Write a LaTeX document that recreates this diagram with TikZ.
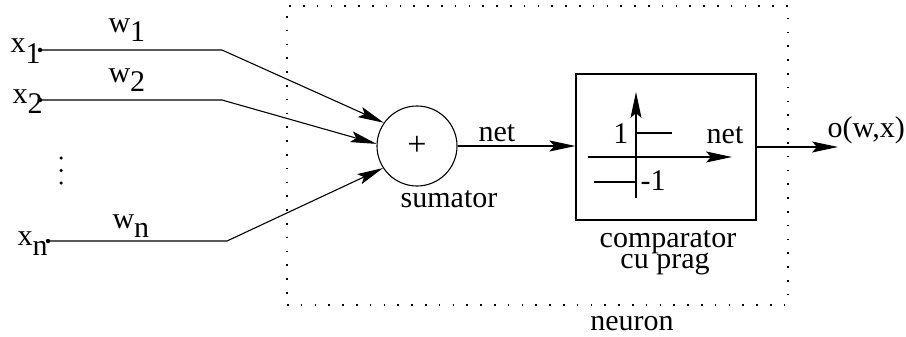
\documentclass[tikz,border=0pt]{standalone}
\usepackage{fontspec}
\setmainfont{Liberation Serif}
\newfontfamily\timesfam{Liberation Serif}
\usetikzlibrary{arrows.meta}
\begin{document}
\begin{tikzpicture}[x=1pt,y=-1pt,
  line width=1.1pt,
  arr/.style={-{Stealth[length=26pt,width=11pt,inset=5pt]}},
  lbl/.style={inner sep=0pt,font=\timesfam\fontsize{30}{30}\selectfont},
  indot/.style={circle,fill=black,inner sep=0pt,minimum size=4.5pt},
  vdot/.style={circle,fill=black,inner sep=0pt,minimum size=3.5pt},
  neuronbox/.style={draw,line width=1.6pt,dash pattern=on 1.6pt off 12.2pt,inner sep=0pt},
  blockbox/.style={draw,inner sep=0pt}]
\useasboundingbox (0,0) rectangle (906,337);

% neuron boundary
\node[neuronbox,minimum width=501pt,minimum height=299pt] (neuron) at (537.5,155.5) {};
\node[lbl,anchor=base] (neuronlbl) at (632,330) {neuron};

% inputs
\node[indot] (x1) at (40,50) {};
\node[indot] (x2) at (40,100) {};
\node[indot] (xn) at (48,241) {};
\node[lbl,anchor=base west] (x1lbl) at (10,53) {x\raisebox{-10pt}{1}};
\node[lbl,anchor=base west] (x2lbl) at (12,103) {x\raisebox{-10pt}{2}};
\node[lbl,anchor=base west] (xnlbl) at (17,245) {x\raisebox{-10pt}{n}};
\node[vdot] (vd1) at (61,158) {};
\node[vdot] (vd2) at (61,170.5) {};
\node[vdot] (vd3) at (61,183) {};

% weights
\node[lbl,anchor=base west] (w1) at (108,33) {w\raisebox{-9pt}{1}};
\node[lbl,anchor=base west] (w2) at (108,83) {w\raisebox{-9pt}{2}};
\node[lbl,anchor=base west] (wn) at (112,228) {w\raisebox{-9pt}{n}};

% summation unit
\node[draw,circle,minimum size=80pt,inner sep=0pt,font=\timesfam\fontsize{34}{34}\selectfont] (sum) at (417,146) {+};
\node[lbl,anchor=base] (sumlbl) at (449,207) {sumator};

\coordinate (b1) at (222,50);
\coordinate (b2) at (222,100);
\coordinate (bn) at (227,241);
\draw[arr] (x1.center) -- (b1) -- (sum.145);
\draw[arr] (x2.center) -- (b2) -- (sum.177);
\draw[arr] (xn.center) -- (bn) -- (sum.213);

% threshold comparator
\node[blockbox,minimum width=180pt,minimum height=146pt] (comp) at (666,147) {};
\node[lbl,anchor=base] (complbl) at (668,247) {comparator};
\node[lbl,anchor=base] (praglbl) at (665,268) {cu prag};

\draw[arr] (sum.east) -- (comp.west |- sum.east);
\node[lbl,anchor=base] (netlbl) at (497,142) {net};

% step characteristic
\coordinate (ybot) at (636,198);
\coordinate (ytop) at (636,92);
\coordinate (xl) at (588,157);
\coordinate (xr) at (732,157);
\coordinate (hi1) at (636,133);
\coordinate (hi2) at (672,133);
\coordinate (lo1) at (594,182);
\coordinate (lo2) at (636,182);
\draw[arr] (ybot) -- (ytop);
\draw[arr] (xl) -- (xr);
\draw (hi1) -- (hi2);
\draw (lo1) -- (lo2);
\node[lbl,anchor=base east] (one) at (629,143) {1};
\node[lbl,anchor=base west] (mone) at (640,190) {-1};
\node[lbl,anchor=base] (netin) at (725,143) {net};

% output
\coordinate (out) at (838,147);
\draw[arr] (comp.east) -- (out);
\node[lbl,anchor=base west] (outlbl) at (827,138) {o(w,x)};
\end{tikzpicture}
\end{document}
